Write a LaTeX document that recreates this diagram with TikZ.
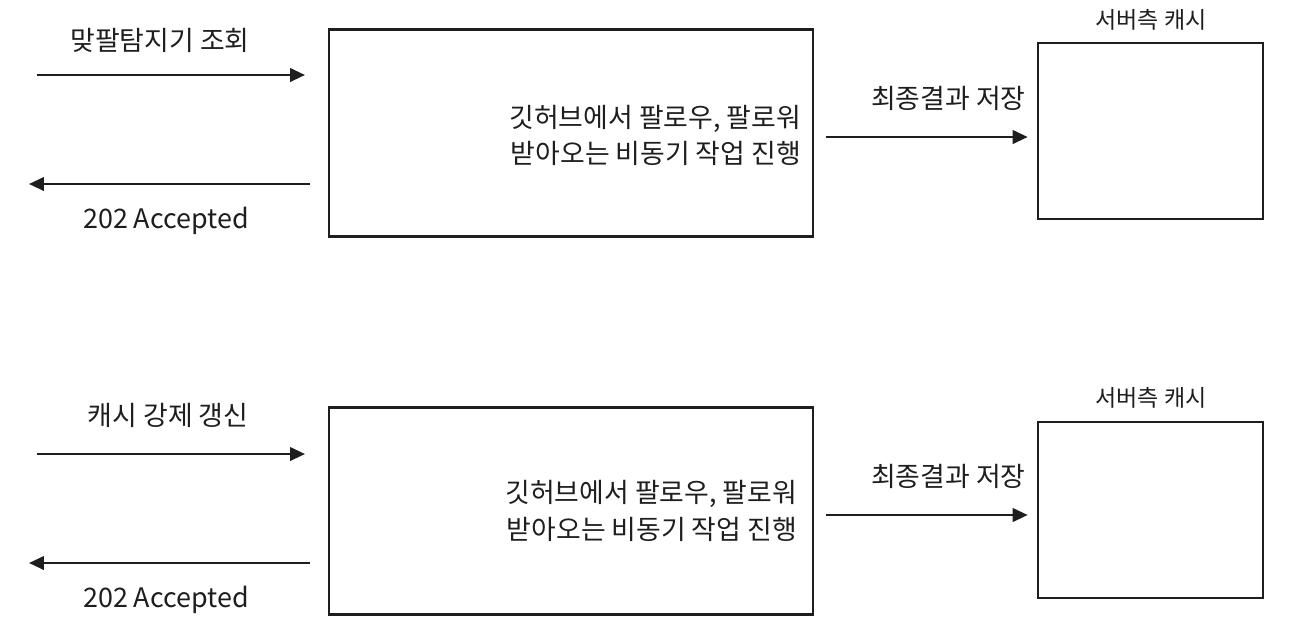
\documentclass[tikz,border=0pt]{standalone}
\usepackage{fontspec}
\setmainfont{Noto Sans CJK KR}
\usepackage{tikz}
\usetikzlibrary{arrows.meta, positioning}
\definecolor{inkgray}{RGB}{30, 30, 30}

\begin{document}
\begin{tikzpicture}[
  x=0.02cm, y=-0.02cm,
  every node/.style={font=\fontsize{15.3}{20.6}\selectfont, text=inkgray, inner sep=0pt},
  job/.style={
    draw=inkgray, line width=1.5pt,
    minimum width=9.68cm, minimum height=4.14cm
  },
  cache/.style={
    draw=inkgray, line width=1.5pt,
    minimum width=4.5cm, minimum height=3.52cm
  },
  arrow/.style={-{Triangle[length=0.3cm, width=0.27cm]}, line width=1.4pt, color=inkgray},
  tag/.style={font=\fontsize{13.1}{15}\selectfont}
]
  \useasboundingbox (0,0) rectangle (1300,643);

  % Gruppo superiore: conteggio normale
  \node[job] (job1) at (571,133) {};
  \node[align=right, anchor=east] (jobtxt1) at ([xshift=-0.26cm, yshift=-0.05cm]job1.east) {깃허브에서 팔로우, 팔로워\\받아오는 비동기 작업 진행};
  \node[cache] (cache1) at (1150.5,131) {};
  \node[tag] (cachetag1) at (1151,20) {서버측 캐시};

  \coordinate (req1s) at (37,75);
  \coordinate (req1e) at (305,75);
  \coordinate (res1s) at (310,184);
  \coordinate (res1e) at (29,184);
  \coordinate (sav1) at (0,137);

  \node (reqlbl1) at (160,40) {맞팔탐지기 조회};
  \node (reslbl1) at (166,221) {202 Accepted};
  \node[anchor=east] (savlbl1) at (1026,98) {최종결과 저장};

  \draw[arrow] (req1s) -- (req1e);
  \draw[arrow] (res1s) -- (res1e);
  \draw[arrow, shorten <=0.24cm, shorten >=0.18cm] (job1.east |- sav1) -- (cache1.west |- sav1);

  % Gruppo inferiore: refresh forzato
  \node[job] (job2) at (571,511) {};
  \node[align=right, anchor=east] (jobtxt2) at ([xshift=-0.34cm, yshift=0cm]job2.east) {깃허브에서 팔로우, 팔로워\\받아오는 비동기 작업 진행};
  \node[cache] (cache2) at (1150.5,510) {};
  \node[tag] (cachetag2) at (1151,398) {서버측 캐시};

  \coordinate (req2s) at (37,454);
  \coordinate (req2e) at (305,454);
  \coordinate (res2s) at (310,563);
  \coordinate (res2e) at (29,563);
  \coordinate (sav2) at (0,515);

  \node (reqlbl2) at (168,415) {캐시 강제 갱신};
  \node (reslbl2) at (166,600) {202 Accepted};
  \node[anchor=east] (savlbl2) at (1026,476) {최종결과 저장};

  \draw[arrow] (req2s) -- (req2e);
  \draw[arrow] (res2s) -- (res2e);
  \draw[arrow, shorten <=0.24cm, shorten >=0.18cm] (job2.east |- sav2) -- (cache2.west |- sav2);

\end{tikzpicture}
\end{document}
